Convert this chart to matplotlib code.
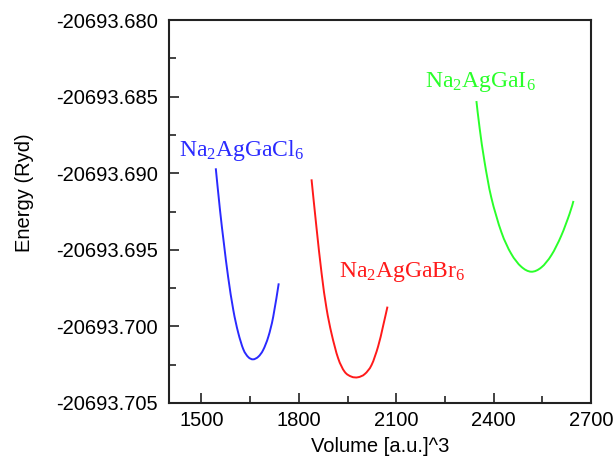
import matplotlib
matplotlib.use("Agg")
import matplotlib.pyplot as plt
from matplotlib.ticker import MultipleLocator, FormatStrFormatter
from matplotlib.path import Path
from matplotlib.patches import PathPatch

plt.rcParams['mathtext.fontset'] = 'custom'
plt.rcParams['mathtext.rm'] = 'Liberation Serif'
plt.rcParams['mathtext.it'] = 'Liberation Serif:italic'

# Na2AgGaCl6
cl_vol = [1544, 1557, 1569, 1582, 1598, 1613, 1629, 1644, 1659, 1675, 1690, 1706, 1721, 1738]
cl_energy = [-20693.68968, -20693.69240, -20693.69458, -20693.69676, -20693.69893, -20693.70040,
             -20693.70150, -20693.70200, -20693.70215, -20693.70198, -20693.70154, -20693.70067,
             -20693.69937, -20693.69719]

# Na2AgGaBr6
br_vol = [1839, 1854, 1870, 1885, 1901, 1921, 1941, 1962, 1982, 2003, 2024, 2044, 2059, 2073]
br_energy = [-20693.69040, -20693.69349, -20693.69653, -20693.69880, -20693.70050, -20693.70208,
             -20693.70296, -20693.70328, -20693.70332, -20693.70311, -20693.70252, -20693.70132,
             -20693.70002, -20693.69871]

# Na2AgGaI6
i_vol = [2347, 2357, 2372, 2393, 2424, 2454, 2485, 2516, 2547, 2578, 2608, 2634, 2646]
i_energy = [-20693.68529, -20693.68707, -20693.68925, -20693.69160, -20693.69385, -20693.69525,
            -20693.69610, -20693.69643, -20693.69615, -20693.69535, -20693.69410, -20693.69265,
            -20693.69181]

labels = [r"Na$_2$AgGaCl$_6$", r"Na$_2$AgGaBr$_6$", r"Na$_2$AgGaI$_6$"]
label_pos = [(1431, -20693.68886), (1923, -20693.69675), (2188, -20693.68435)]
colors = ["#2a2aff", "#ff1a1a", "#2aff2a"]

x_ticks = [1500, 1800, 2100, 2400, 2700]
y_ticks = [-20693.705, -20693.700, -20693.695, -20693.690, -20693.685, -20693.680]


def smooth_path(xs, ys):
    """Catmull-Rom spline through the read points, drawn as cubic Bezier segments."""
    verts = [(xs[0], ys[0])]
    codes = [Path.MOVETO]
    n = len(xs)
    for i in range(n - 1):
        x0, y0 = (xs[i - 1], ys[i - 1]) if i > 0 else (xs[i], ys[i])
        x1, y1 = xs[i], ys[i]
        x2, y2 = xs[i + 1], ys[i + 1]
        x3, y3 = (xs[i + 2], ys[i + 2]) if i + 2 < n else (x2, y2)
        c1 = (x1 + (x2 - x0) / 6.0, y1 + (y2 - y0) / 6.0)
        c2 = (x2 - (x3 - x1) / 6.0, y2 - (y3 - y1) / 6.0)
        verts += [c1, c2, (x2, y2)]
        codes += [Path.CURVE4] * 3
    return Path(verts, codes)


fig = plt.figure(figsize=(6.16, 4.58), dpi=100)
ax = fig.add_axes([0.2744, 0.1201, 0.6850, 0.8362])

for (v, e), c in zip([(cl_vol, cl_energy), (br_vol, br_energy), (i_vol, i_energy)], colors):
    ax.add_patch(PathPatch(smooth_path(v, e), facecolor='none', edgecolor=c, lw=1.4))

for lab, (x, y), c in zip(labels, label_pos, colors):
    ax.text(x, y, lab, color=c, fontsize=17, family='Liberation Serif',
            ha='left', va='baseline')

ax.set_xlim(1400, 2700)
ax.set_ylim(-20693.705, -20693.680)
ax.set_xticks(x_ticks)
ax.set_yticks(y_ticks)
ax.xaxis.set_minor_locator(MultipleLocator(150))
ax.yaxis.set_minor_locator(MultipleLocator(0.0025))
ax.yaxis.set_major_formatter(FormatStrFormatter('%.3f'))

ax.tick_params(which='both', direction='in', top=False, right=False,
               labelsize=14.5, width=1.2, colors='#222222', labelcolor='black')
ax.tick_params(which='major', length=7)
ax.tick_params(which='minor', length=5)
ax.tick_params(axis='y', pad=8)
ax.tick_params(axis='x', pad=6)
for lbl in ax.get_xticklabels() + ax.get_yticklabels():
    lbl.set_family('Liberation Sans')

for s in ax.spines.values():
    s.set_linewidth(1.5)
    s.set_color('#222222')

ax.set_xlabel("Volume [a.u.]^3", fontsize=14.5, family='Liberation Sans')
ax.set_ylabel("Energy (Ryd)", fontsize=14.5, family='Liberation Sans')
ax.xaxis.set_label_coords(0.5, -0.09)
ax.yaxis.set_label_coords(-0.32, 0.548)

fig.savefig("out.png", dpi=100)
